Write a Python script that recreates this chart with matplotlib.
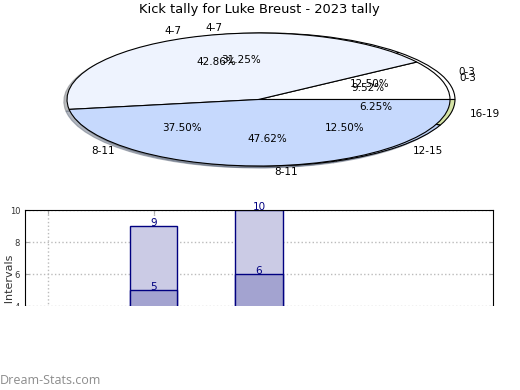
import matplotlib
matplotlib.use("Agg")
import matplotlib.pyplot as plt
from matplotlib.patches import Rectangle

# kick counts per interval, two tallies
labels_a = ["0-3", "4-7", "8-11"]
counts_a = [2, 9, 10]
colors_a = ["#ffffff", "#eef3fe", "#c6d9fd"]

labels_b = ["0-3", "4-7", "8-11", "12-15", "16-19"]
counts_b = [2, 5, 6, 2, 1]
colors_b = ["#ffffff", "#eef3fe", "#c6d9fd", "#b9cdf3", "#d5e3a6"]

title = "Kick tally for Luke Breust - 2023 tally"

W, H = 520, 390
fig = plt.figure(figsize=(W / 100, H / 100), dpi=100)

# pie, squashed into an ellipse
ax1 = fig.add_axes([69.5 / W, 1 - 166 / H, 383 / W, 133 / H])
wp = dict(edgecolor="black", linewidth=0.8)
tp = dict(fontsize=7.5)
shad = dict(ox=-0.012, oy=-0.02, shade=0.5)
ax1.pie(counts_b, labels=labels_b, colors=colors_b, autopct="%.2f%%",
        shadow=shad, wedgeprops=wp, textprops=tp, center=(0.013, 0))
ax1.pie(counts_a, labels=labels_a, colors=colors_a, autopct="%.2f%%",
        shadow=shad, wedgeprops=wp, textprops=tp, center=(-0.013, 0))
ax1.set_aspect("auto")
ax1.set_xlim(-1, 1)
ax1.set_ylim(-1, 1)
for t in ax1.texts:
    t.set_clip_on(False)
fig.text(259 / W, 1 - 10 / H, title, ha="center", va="center", fontsize=9.4)

# bar chart (lower part cut off)
ax2 = fig.add_axes([25 / W, 1 - 370 / H, 468 / W, 160 / H])
ax2.bar(range(len(counts_a)), counts_a, width=0.45, color="#cbcbe5",
        edgecolor="#000080", linewidth=1, zorder=2)
ax2.bar(range(len(counts_b)), counts_b, width=0.45, color="#a3a3d0",
        edgecolor="#000080", linewidth=1, zorder=3)
for i, v in enumerate(counts_a):
    ax2.annotate(str(v), (i, v), xytext=(0, 2), textcoords="offset points",
                 ha="center", va="center", color="#000080", fontsize=7.5, zorder=5)
for i, v in enumerate(counts_b):
    ax2.annotate(str(v), (i, v), xytext=(0, 2), textcoords="offset points",
                 ha="center", va="center", color="#000080", fontsize=7.5, zorder=5)
ax2.set_xlim(-0.22, 4.22)
ax2.set_ylim(0, 10)
ax2.set_xticks([0, 1, 2])
ax2.set_yticks([0, 2, 4, 6, 8, 10])
ax2.grid(True, linestyle=":", color="#bbbbbb", linewidth=1)
ax2.set_axisbelow(True)
ax2.tick_params(direction="in", top=True, right=True, length=3,
                color="#aaaaaa", labelsize=6, labelcolor="#333333")
fig.text(5 / W, 1 - 255 / H, "Count : Intervals", rotation=90,
         ha="left", va="top", fontsize=8, color="#333333")

# white cover over the cut-off part
fig.add_artist(Rectangle((0, 0), 1, (H - 306) / H, transform=fig.transFigure,
                         facecolor="white", edgecolor="none", zorder=10))
fig.text(0, 1 - 380 / H, "Dream-Stats.com", ha="left", va="center",
         fontsize=9, color="#8c8c8c", family="Open Sans", zorder=11)

fig.savefig("out.png", dpi=100)
